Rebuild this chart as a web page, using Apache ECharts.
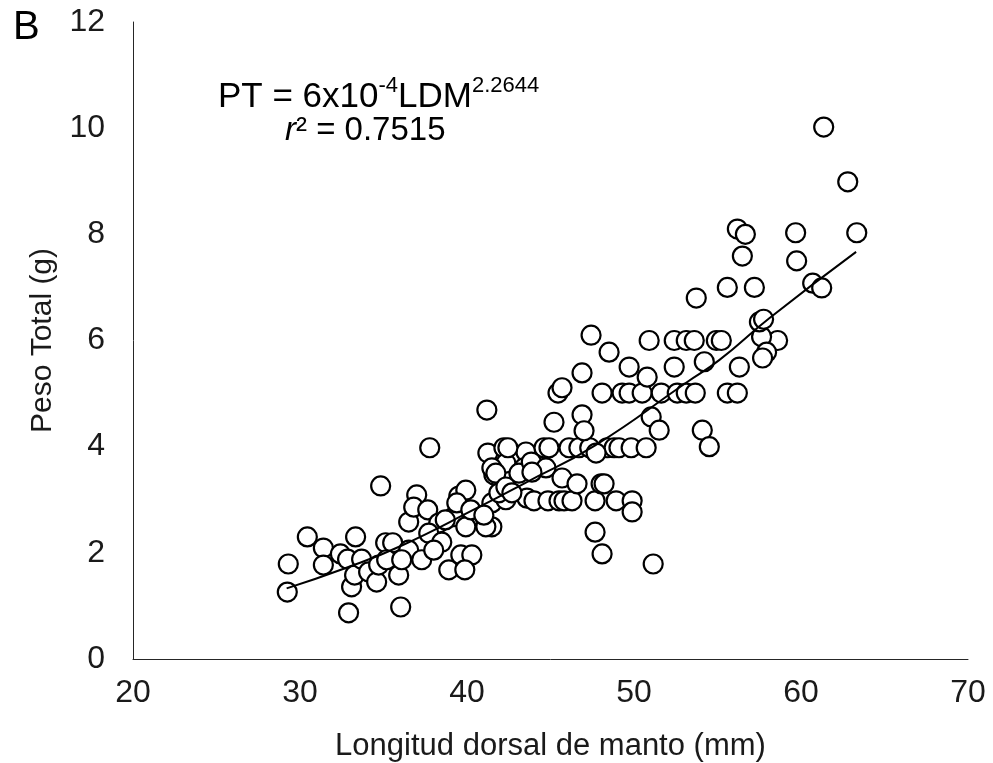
<!DOCTYPE html>
<html>
<head>
<meta charset="utf-8">
<script src="https://cdn.jsdelivr.net/npm/echarts@6/dist/echarts.min.js"></script>
<style>html,body{margin:0;padding:0;background:#fff}#c{width:993px;height:763px}</style>
</head>
<body>
<div id="c"></div>
<script>
// Observed data: LDM (mm) and PT (g)
var ldm = [29.24,29.30,30.44,31.40,31.40,32.42,32.85,32.91,33.09,33.27,33.33,33.69,34.11,34.59,34.71,34.83,35.13,35.55,35.19,35.91,36.03,36.51,36.09,36.51,36.99,36.81,37.65,38.31,39.21,39.93,39.51,39.93,39.39,40.23,37.71,38.49,37.29,39.63,40.29,38.91,39.87,41.49,42.33,41.91,41.49,41.13,41.61,41.01,41.19,37.77,41.25,42.21,43.53,42.33,41.49,41.73,43.41,38.01,38.70,43.11,43.59,42.33,42.45,44.61,44.91,46.11,46.70,47.35,48.39,48.81,49.10,49.83,50.73,47.73,43.85,44.73,43.89,42.69,44.01,44.85,45.51,45.81,46.29,47.67,48.93,49.89,49.89,47.67,48.09,51.15,45.69,46.59,48.03,48.21,45.21,46.89,47.01,51.03,51.51,54.09,54.51,45.45,45.69,48.09,49.29,49.71,50.49,51.63,52.59,53.13,53.67,55.59,56.19,46.89,49.71,50.79,52.41,54.21,56.31,50.91,52.41,53.13,53.61,54.93,55.23,58.60,57.64,47.43,48.51,57.51,57.76,57.94,57.70,53.73,55.59,57.21,60.70,61.24,56.49,59.74,56.19,56.67,59.68,63.34,61.36,62.80];
var pt  = [1.26,1.79,2.30,2.09,1.77,1.98,1.88,0.87,1.36,1.58,2.30,1.88,1.64,1.45,1.77,3.26,2.19,2.19,1.87,1.58,0.98,2.05,1.87,2.58,3.09,2.86,2.81,2.56,2.68,2.49,3.07,3.18,2.94,2.81,2.37,2.20,1.87,1.96,1.96,1.68,1.68,2.94,3.00,3.13,2.49,2.49,3.47,2.71,4.69,3.98,3.88,3.98,3.90,3.69,3.60,3.50,3.60,2.05,2.62,3.50,3.03,3.24,3.98,3.98,3.98,3.98,3.98,3.98,3.98,3.98,3.98,3.98,3.98,3.88,3.71,3.60,3.52,3.13,2.98,2.98,2.98,2.98,2.98,2.98,2.98,2.98,2.77,2.39,1.98,1.79,3.41,3.30,3.30,3.30,4.46,4.60,4.30,4.56,4.31,4.31,4.00,5.01,5.11,5.01,5.01,5.01,5.01,5.01,5.01,5.01,5.01,5.01,5.01,5.39,5.50,5.31,5.50,5.60,5.50,6.00,6.00,6.00,6.00,6.00,6.00,6.00,6.07,6.10,5.78,6.35,6.40,5.78,5.67,6.80,7.00,7.00,7.08,6.99,7.59,7.50,8.10,8.00,8.03,8.03,10.02,8.99];
// Fitted curve
var fitX = [29.2,32.7,35.9,40.7,43.5,47.7,53.1,55.1,58.1,63.3];
var fitY = [1.33,1.71,2.11,2.86,3.32,4.03,5.20,5.63,6.42,7.67];
var xTicks = [20,30,40,50,60,70];
var yTicks = [0,2,4,6,8,10,12];

var pts = ldm.map(function(x,i){return [x,pt[i]];});
var fit = fitX.map(function(x,i){return [x,fitY[i]];});
var F = '"Liberation Sans", Arial, sans-serif';
var chart = echarts.init(document.getElementById('c'));
chart.setOption({
  backgroundColor:'#fff',
  animation:false,
  grid:{left:133,right:25,top:22,bottom:104,containLabel:false,outerBoundsMode:'none'},
  xAxis:{type:'value',min:xTicks[0],max:xTicks[xTicks.length-1],interval:10,
    name:'Longitud dorsal de manto (mm)',nameLocation:'middle',nameGap:72,
    nameTextStyle:{fontFamily:F,fontSize:31,color:'#1a1a1a'},
    axisLine:{lineStyle:{color:'#262626',width:1}},axisTick:{show:false},splitLine:{show:false},
    axisLabel:{fontFamily:F,fontSize:32,color:'#1a1a1a',margin:18}},
  yAxis:{type:'value',min:yTicks[0],max:yTicks[yTicks.length-1],interval:2,
    name:'Peso Total (g)',nameLocation:'middle',nameGap:75,nameRotate:90,
    nameTextStyle:{fontFamily:F,fontSize:30,color:'#1a1a1a'},
    axisLine:{show:true,lineStyle:{color:'#262626',width:1}},axisTick:{show:false},splitLine:{show:false},
    axisLabel:{fontFamily:F,fontSize:32,color:'#1a1a1a',margin:28}},
  series:[
    {type:'line',data:fit,smooth:true,showSymbol:false,symbol:'none',z:3,
     lineStyle:{color:'#000',width:2}},
    {type:'scatter',data:pts,symbol:'circle',symbolSize:19,z:2,
     itemStyle:{color:'#fff',borderColor:'#000',borderWidth:2.2,opacity:1}}
  ],
  graphic:[
    {type:'text',left:13,top:8,style:{text:'B',font:'40px '+F,fill:'#000'}},
    {type:'text',left:218,top:75,style:{
      text:'{m|PT = 6x10}{s|-4}{m|LDM}{s|2.2644}',
      rich:{m:{fontFamily:F,fontSize:35,color:'#000',lineHeight:40,verticalAlign:'bottom'},
            s:{fontFamily:F,fontSize:22,color:'#000',lineHeight:40,verticalAlign:'top'}}}},
    {type:'text',left:285,top:114,style:{
      text:'{i|r}{m|² = 0.7515}',
      rich:{m:{fontFamily:F,fontSize:33,color:'#000',lineHeight:40,verticalAlign:'bottom'},
            i:{fontFamily:F,fontSize:33,fontStyle:'italic',color:'#000',lineHeight:40,verticalAlign:'bottom'}}}}
  ]
});
</script>
</body>
</html>
